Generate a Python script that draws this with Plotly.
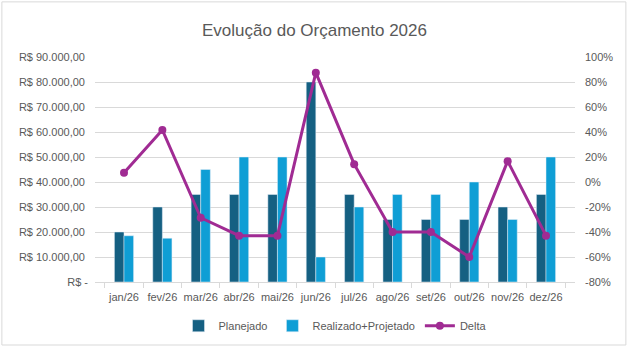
import plotly.graph_objects as go

meses = ["jan/26", "fev/26", "mar/26", "abr/26", "mai/26", "jun/26",
         "jul/26", "ago/26", "set/26", "out/26", "nov/26", "dez/26"]
planejado = [20000, 30000, 35000, 35000, 35000, 80000, 35000, 25000, 25000, 25000, 30000, 35000]
realizado = [18500, 17500, 45000, 50000, 50000, 10000, 30000, 35000, 35000, 40000, 25000, 50000]
delta = [0.075, 0.417, -0.286, -0.429, -0.429, 0.875, 0.143, -0.40, -0.40, -0.60, 0.167, -0.429]

left_vals = [i * 10000 for i in range(10)]
left_text = ["R$ -"] + ["R$ %d.000,00 " % (v // 1000) for v in left_vals[1:]]
right_vals = [-0.8, -0.6, -0.4, -0.2, 0, 0.2, 0.4, 0.6, 0.8, 1.0]
right_text = ["-80%", "-60%", "-40%", "-20%", "0%", "20%", "40%", "60%", "80%", "100%"]

FONT = "Liberation Sans"
GRAY = "#595959"

fig = go.Figure()
fig.add_trace(go.Bar(x=meses, y=planejado, name="Planejado", marker_color="#156082"))
fig.add_trace(go.Bar(x=meses, y=realizado, name="Realizado+Projetado", marker_color="#0F9ED5"))
fig.add_trace(go.Scatter(x=meses, y=delta, name="Delta", yaxis="y2", mode="lines+markers",
                         line=dict(color="#A02B93", width=3), marker=dict(size=8, color="#A02B93")))

fig.update_layout(
    width=629, height=354,
    margin=dict(l=95, r=54, t=57, b=72, autoexpand=False),
    paper_bgcolor="white", plot_bgcolor="white",
    font=dict(family=FONT, size=11, color=GRAY),
    title=dict(text="Evolução do Orçamento 2026", x=0.5, xanchor="center", y=0.915, yanchor="middle",
               font=dict(family=FONT, size=17, color=GRAY)),
    barmode="group", bargap=0.5, bargroupgap=0,
    xaxis=dict(type="category", showgrid=False, showline=True, linecolor="#d9d9d9",
               ticks="outside", tickson="boundaries", ticklen=5, tickcolor="#d9d9d9",
               tickangle=0, automargin=False, ticklabelstandoff=5, tickfont=dict(size=11, color=GRAY)),
    yaxis=dict(range=[0, 90000], tickvals=left_vals, ticktext=left_text, showgrid=True,
               gridcolor="#d9d9d9", gridwidth=1, zeroline=False, ticks="", automargin=False,
               ticklabelstandoff=6, tickfont=dict(size=11, color=GRAY)),
    yaxis2=dict(overlaying="y", side="right", range=[-0.8, 1.0], tickvals=right_vals, ticktext=right_text,
                showgrid=False, zeroline=False, automargin=False, ticklabelstandoff=9,
                tickfont=dict(size=11, color=GRAY)),
    legend=dict(orientation="h", x=0.5, xanchor="center", y=-0.13, yanchor="top",
                font=dict(size=11, color=GRAY), itemwidth=30),
    shapes=[dict(type="rect", xref="paper", yref="paper", x0=-0.194, x1=1.106, y0=-0.28, y1=1.245,
                 line=dict(color="#d9d9d9", width=1), layer="below")],
)

fig.write_html("out.html")
